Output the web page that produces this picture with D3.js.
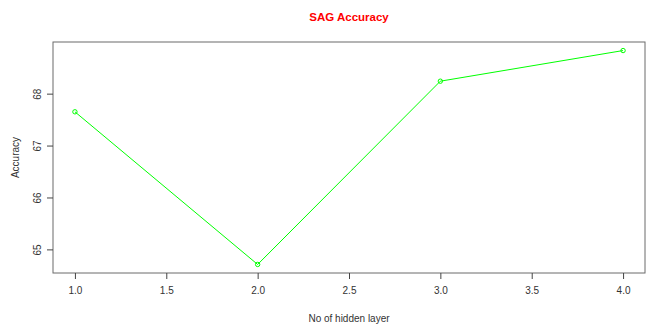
<!DOCTYPE html>
<html>
<head>
<meta charset="utf-8">
<script src="https://cdn.jsdelivr.net/npm/d3@7"></script>
<style>
  body { margin: 0; background: #fff; }
  svg text { font-family: "Liberation Sans", Arial, sans-serif; }
</style>
</head>
<body>
<div id="chart"></div>
<script>
// hidden layers vs accuracy
const layers = [1, 2, 3, 4];
const accuracy = [67.65, 64.71, 68.24, 68.83];
const xTicks = [1.0, 1.5, 2.0, 2.5, 3.0, 3.5, 4.0];
const yTicks = [65, 66, 67, 68];

const width = 648, height = 324;
const margin = { top: 42, right: 3, bottom: 51, left: 53 };

const svg = d3.select("#chart").append("svg")
    .attr("width", width)
    .attr("height", height);

// R style 4% padding on both ends
const xPad = (d3.max(layers) - d3.min(layers)) * 0.04;
const yPad = (d3.max(accuracy) - d3.min(accuracy)) * 0.04;

const x = d3.scaleLinear()
    .domain([d3.min(layers) - xPad, d3.max(layers) + xPad])
    .range([margin.left, width - margin.right]);

const y = d3.scaleLinear()
    .domain([d3.min(accuracy) - yPad, d3.max(accuracy) + yPad])
    .range([height - margin.bottom, margin.top]);

// frame
svg.append("rect")
    .attr("x", margin.left)
    .attr("y", margin.top)
    .attr("width", width - margin.left - margin.right)
    .attr("height", height - margin.top - margin.bottom)
    .attr("fill", "none")
    .attr("stroke", "#6b6b6b")
    .attr("stroke-width", 1);

// x axis
const xAxis = svg.append("g")
    .attr("transform", `translate(0,${height - margin.bottom})`)
    .call(d3.axisBottom(x).tickValues(xTicks).tickFormat(d3.format(".1f")).tickSizeOuter(0).tickSize(6).tickPadding(8));
xAxis.select(".domain").remove();
xAxis.selectAll("line").attr("stroke", "#444");
xAxis.selectAll("text").attr("fill", "#333").style("font-size", "10px");

// y axis, labels rotated like base R
const yAxis = svg.append("g")
    .attr("transform", `translate(${margin.left},0)`)
    .call(d3.axisLeft(y).tickValues(yTicks).tickFormat(d3.format("d")).tickSizeOuter(0).tickSize(6));
yAxis.select(".domain").remove();
yAxis.selectAll("line").attr("stroke", "#444");
yAxis.selectAll("text")
    .attr("fill", "#333")
    .style("font-size", "10px")
    .attr("text-anchor", "middle")
    .attr("x", 0)
    .attr("dy", 0)
    .attr("transform", "translate(-16,0) rotate(-90)")
    .attr("dominant-baseline", "central");

// line + points
const line = d3.line()
    .x((d, i) => x(layers[i]))
    .y(d => y(d));

svg.append("path")
    .datum(accuracy)
    .attr("d", line)
    .attr("fill", "none")
    .attr("stroke", "#00ff00")
    .attr("stroke-width", 1);

svg.selectAll("circle.pt")
    .data(accuracy)
    .enter().append("circle")
    .attr("class", "pt")
    .attr("cx", (d, i) => x(layers[i]))
    .attr("cy", d => y(d))
    .attr("r", 2.2)
    .attr("fill", "none")
    .attr("stroke", "#00ff00")
    .attr("stroke-width", 1);

// titles
svg.append("text")
    .attr("x", (margin.left + width - margin.right) / 2)
    .attr("y", 21)
    .attr("text-anchor", "middle")
    .style("font-size", "11.5px")
    .style("font-weight", "bold")
    .attr("fill", "#ff0000")
    .text("SAG Accuracy");

svg.append("text")
    .attr("x", (margin.left + width - margin.right) / 2)
    .attr("y", 322)
    .attr("text-anchor", "middle")
    .style("font-size", "10px")
    .attr("fill", "#333")
    .text("No of hidden layer");

svg.append("text")
    .attr("transform", `translate(19,${(margin.top + height - margin.bottom) / 2}) rotate(-90)`)
    .attr("text-anchor", "middle")
    .style("font-size", "10px")
    .attr("fill", "#333")
    .text("Accuracy");
</script>
</body>
</html>
